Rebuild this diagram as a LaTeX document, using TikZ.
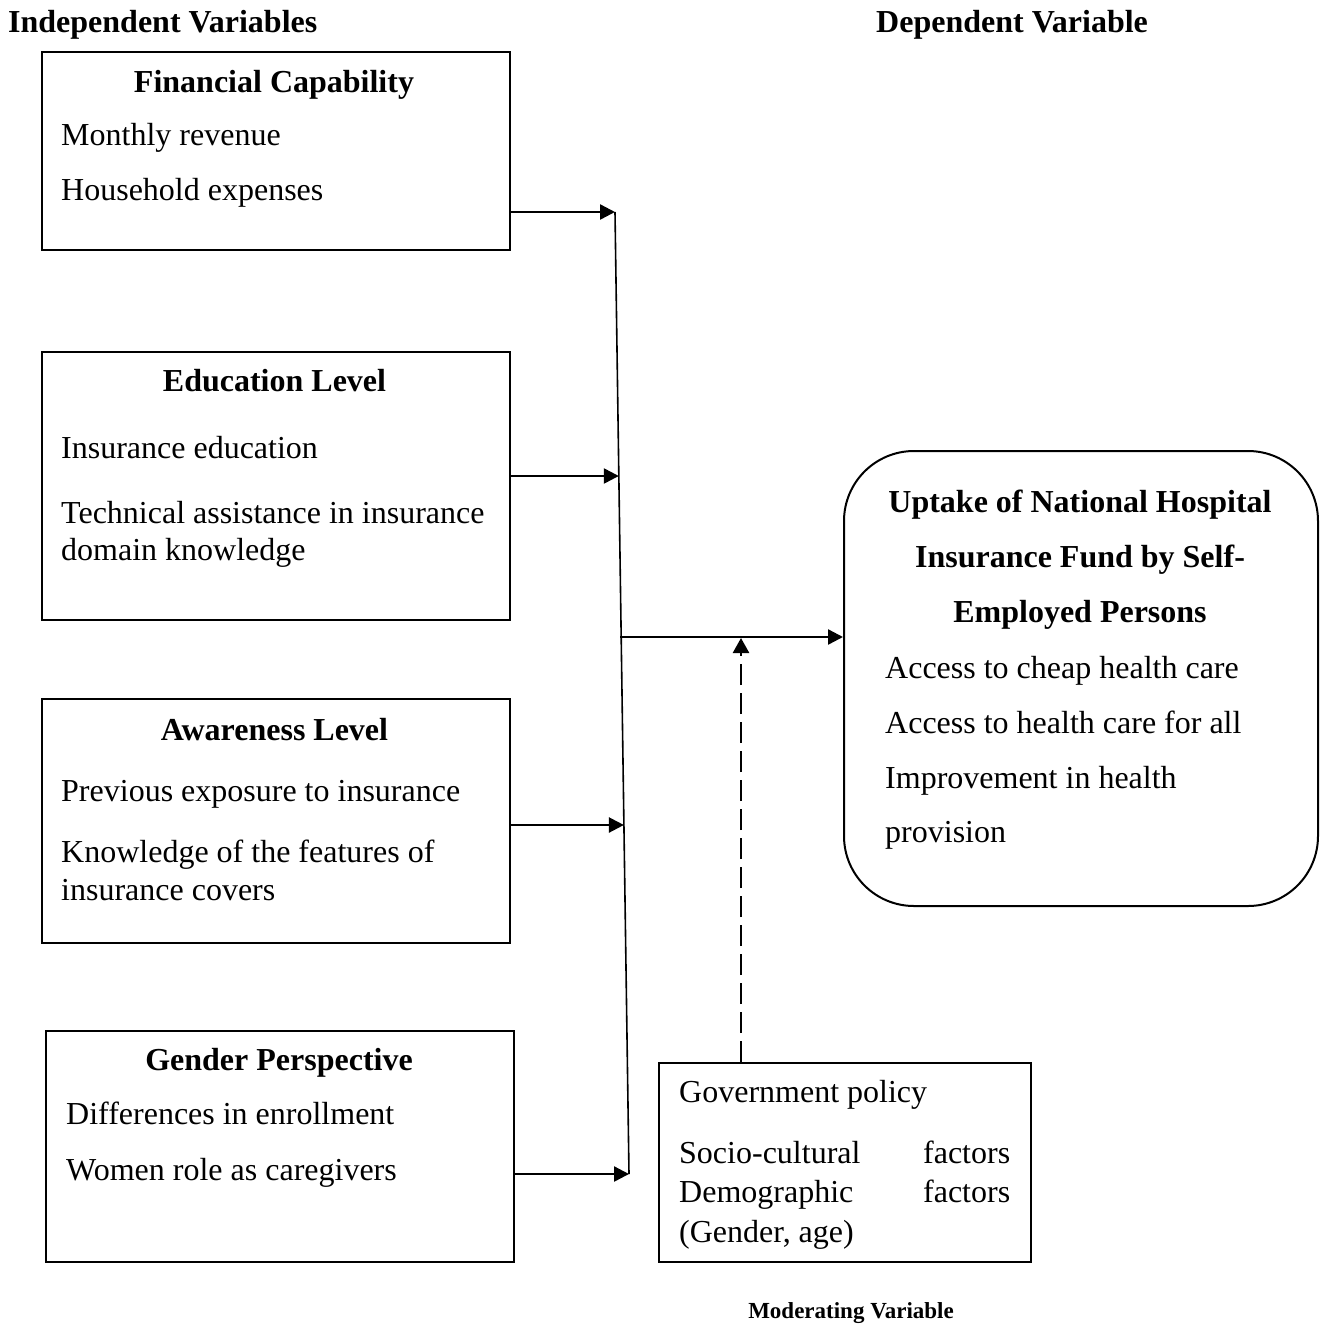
\documentclass[tikz,border=0pt]{standalone}
\usepackage{fontspec}
\setmainfont{Liberation Serif}
\usetikzlibrary{arrows.meta,calc}
\begin{document}
\begin{tikzpicture}[x=1pt,y=-1pt,
  box/.style={draw, line width=2.4pt, rectangle, inner sep=0pt, anchor=north west},
  rbox/.style={draw, line width=2pt, rectangle, rounded corners=70pt, inner sep=0pt, anchor=north west},
  txt/.style={inner sep=0pt, anchor=base west, font=\fontsize{32}{37}\selectfont},
  head/.style={inner sep=0pt, anchor=base, font=\fontsize{32}{37}\selectfont\bfseries},
  title/.style={inner sep=0pt, anchor=base west, font=\fontsize{32}{37}\selectfont\bfseries},
  arr/.style={line width=2.4pt, -{Triangle[length=15pt,width=15pt]}},
  dasharr/.style={line width=2.5pt, dash pattern=on 21pt off 8pt, -{Triangle[length=15pt,width=16pt]}},
  vline/.style={line width=1.6pt}]
\useasboundingbox (0,0) rectangle (1321,1326);
\fill[white] (0,0) rectangle (1321,1326);

% titles
\node[title] (tind) at (8,32) {Independent Variables};
\node[title] (tdep) at (876,32) {Dependent Variable};
\node[inner sep=0pt, anchor=base, font=\fontsize{23}{27}\selectfont\bfseries] (tmod) at (851,1318) {Moderating Variable};

% boxes
\node[box, minimum width=468pt, minimum height=198pt] (fin) at (41,51) {};
\node[box, minimum width=468pt, minimum height=268pt] (edu) at (41,351) {};
\node[box, minimum width=468pt, minimum height=244pt] (awa) at (41,698) {};
\node[box, minimum width=468pt, minimum height=231pt] (gen) at (45,1030) {};
\node[rbox, minimum width=474pt, minimum height=455pt] (dep) at (843,450) {};
\node[box, minimum width=372pt, minimum height=199pt] (mod) at (658,1062) {};

% Financial
\node[head] (finh) at (274,92) {Financial Capability};
\node[txt] (fin1) at (61,145) {Monthly revenue};
\node[txt] (fin2) at (61,200) {Household expenses};
% Education
\node[head] (eduh) at (274.5,391) {Education Level};
\node[txt] (edu1) at (61,458) {Insurance education};
\node[txt] (edu2) at (61,523) {Technical assistance in insurance};
\node[txt] (edu3) at (61,560) {domain knowledge};
% Awareness
\node[head] (awah) at (274.5,740) {Awareness Level};
\node[txt] (awa1) at (61,801) {Previous exposure to insurance};
\node[txt] (awa2) at (61,862) {Knowledge of the features of};
\node[txt] (awa3) at (61,900) {insurance covers};
% Gender
\node[head] (genh) at (279,1070) {Gender Perspective};
\node[txt] (gen1) at (66,1124) {Differences in enrollment};
\node[txt] (gen2) at (66,1180) {Women role as caregivers};
% Dependent
\node[head] (deph1) at (1080,512) {Uptake of National Hospital};
\node[head] (deph2) at (1080,567) {Insurance Fund by Self-};
\node[head] (deph3) at (1080,622) {Employed Persons};
\node[txt] (dep1) at (885,678) {Access to cheap health care};
\node[txt] (dep2) at (885,733) {Access to health care for all};
\node[txt] (dep3) at (885,788) {Improvement in health};
\node[txt] (dep4) at (885,842) {provision};
% Moderating
\node[txt] (mod1) at (679,1102) {Government policy};
\node[txt] (mod2) at (679,1163) {\makebox[331pt][s]{Socio-cultural factors}};
\node[txt] (mod3) at (679,1202) {\makebox[331pt][s]{Demographic factors}};
\node[txt] (mod4) at (679,1242) {(Gender, age)};

% connector geometry
\coordinate (vt) at (615,212);
\coordinate (vb) at (629,1174);
\coordinate (pe) at (618.8,476);
\coordinate (pa) at (623.9,825);
\coordinate (pm) at (620,637);
\coordinate (dt) at (741,638);

\draw[vline] (vt) -- (vb);
\draw[arr] (fin.east |- vt) -- (vt);
\draw[arr] (edu.east |- pe) -- (pe);
\draw[arr] (awa.east |- pa) -- (pa);
\draw[arr] (gen.east |- vb) -- (vb);
\draw[arr] (pm) -- (dep.west |- pm);
\draw[dasharr] (mod.north -| dt) -- (dt);
\end{tikzpicture}
\end{document}
